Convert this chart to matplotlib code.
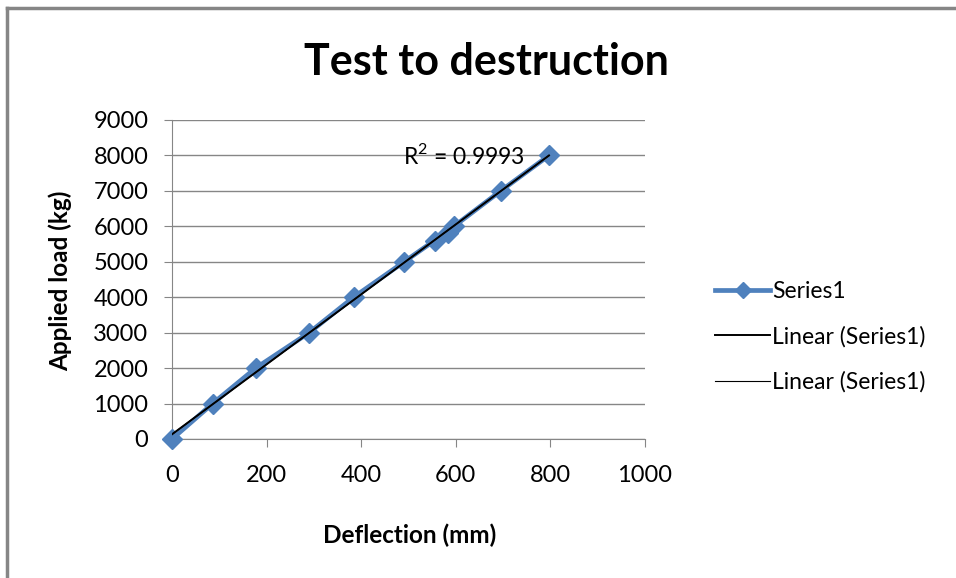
import numpy as np
import matplotlib.pyplot as plt
from matplotlib.lines import Line2D

# Test to destruction readings
deflection_mm = [0, 86, 177, 290, 384, 491, 555, 584, 596, 695, 797]
load_kg = [0, 1000, 2000, 3000, 4000, 5000, 5600, 5800, 6000, 7000, 8000]
x_ticks = [0, 200, 400, 600, 800, 1000]
y_ticks = [0, 1000, 2000, 3000, 4000, 5000, 6000, 7000, 8000, 9000]
r2_label = "R$^2$ = 0.9993"

BLUE = "#4F81BD"
GRID = "#868686"

plt.rcParams["font.family"] = ["Lato", "DejaVu Sans"]
plt.rcParams["mathtext.fontset"] = "custom"
plt.rcParams["mathtext.rm"] = "Lato"

fig = plt.figure(figsize=(9.56, 5.78), dpi=100)
ax = fig.add_axes([0.1799, 0.2405, 0.4948, 0.5519])

x = np.array(deflection_mm, dtype=float)
y = np.array(load_kg, dtype=float)

ax.plot(x, y, color=BLUE, lw=3.4, marker="D", ms=10.5, mec=BLUE,
        clip_on=False, zorder=3, label="Series1")

# two linear trendlines (same fit), drawn over the data
k, b = np.polyfit(x, y, 1)
xs = np.array([x.min(), x.max()])
ax.plot(xs, k * xs + b, color="black", lw=1.4, zorder=4)
ax.plot(xs, k * xs + b, color="black", lw=0.8, zorder=5)

ax.text(488, 8000, r2_label, fontsize=16.5, va="center", ha="left", zorder=6)

ax.set_xlim(0, 1000)
ax.set_ylim(0, 9000)
ax.set_xticks(x_ticks)
ax.set_yticks(y_ticks)
ax.tick_params(axis="both", labelsize=17, color=GRID, length=6,
               direction="out")
ax.tick_params(axis="x", pad=13)
ax.tick_params(axis="y", pad=11)
ax.grid(axis="y", color=GRID, lw=1)
ax.set_axisbelow(True)
for side in ("top", "right"):
    ax.spines[side].set_visible(False)
for side in ("left", "bottom"):
    ax.spines[side].set_color(GRID)

fig.text(0.509, 0.893, "Test to destruction", fontsize=31, fontweight="bold",
         ha="center", va="center")
fig.text(0.063, 0.515, "Applied load (kg)", fontsize=17.5, fontweight="bold",
         rotation=90, ha="center", va="center")
fig.text(0.429, 0.074, "Deflection (mm)", fontsize=17.5, fontweight="bold",
         ha="center", va="center")

handles = [
    Line2D([], [], color=BLUE, lw=3.4, marker="D", ms=8),
    Line2D([], [], color="black", lw=1.4),
    Line2D([], [], color="black", lw=0.8),
]
fig.legend(handles, ["Series1", "Linear (Series1)", "Linear (Series1)"],
           loc="center left", bbox_to_anchor=(0.748, 0.417), frameon=False,
           fontsize=16.5, handlelength=2.4, handletextpad=0.1,
           labelspacing=1.05, borderaxespad=0, borderpad=0)

# chart frame (top and left edges visible)
fig.add_artist(Line2D([0.007, 1.0], [0.986, 0.986], color=GRID, lw=2.5,
                      transform=fig.transFigure))
fig.add_artist(Line2D([0.007, 0.007], [0.0, 0.986], color=GRID, lw=2.5,
                      transform=fig.transFigure))

fig.savefig("out.png", dpi=100)
